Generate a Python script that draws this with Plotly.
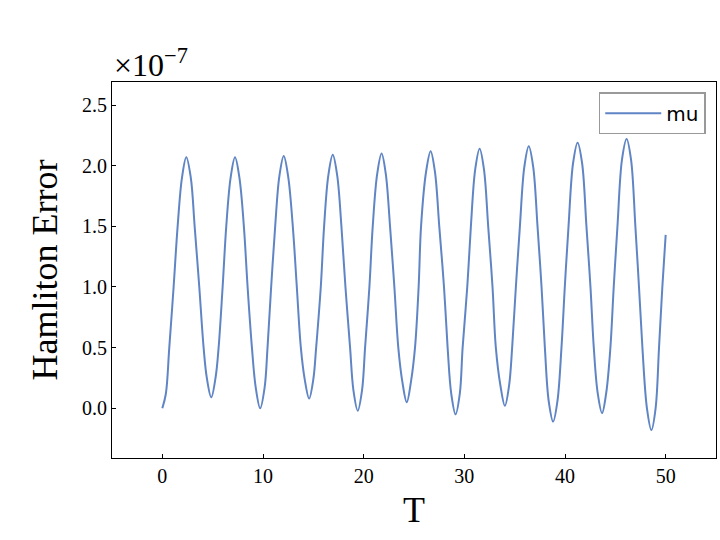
import plotly.graph_objects as go

# Hamilton error (in units of 1e-7)
T = [0.0, 0.35, 0.69, 1.12, 1.52, 1.95, 2.38, 2.83, 3.21, 3.67, 4.10, 4.42, 4.86,
     5.30, 5.59, 5.99, 6.35, 6.78, 7.22, 7.66, 8.10, 8.47, 8.90, 9.28, 9.72,
     10.16, 10.45, 10.81, 11.21, 11.62, 12.06, 12.50, 12.96, 13.36, 13.76, 14.14, 14.58,
     15.00, 15.28, 15.74, 16.07, 16.49, 16.93, 17.37, 17.79, 18.19, 18.65, 18.98, 19.41,
     19.84, 20.14, 20.57, 20.90, 21.34, 21.78, 22.20, 22.62, 23.05, 23.44, 23.84, 24.28,
     24.70, 25.10, 25.46, 25.70, 26.20, 26.65, 27.08, 27.51, 27.98, 28.34, 28.70, 29.13,
     29.55, 29.83, 30.29, 30.65, 31.08, 31.52, 31.95, 32.37, 32.80, 33.13, 33.58, 34.03,
     34.45, 34.75, 35.12, 35.52, 35.96, 36.40, 36.84, 37.27, 37.67, 38.00, 38.38, 38.82,
     39.25, 39.65, 39.98, 40.35, 40.80, 41.25, 41.70, 42.13, 42.53, 42.86, 43.24, 43.68,
     44.10, 44.51, 44.84, 45.21, 45.66, 46.12, 46.56, 46.99, 47.35, 47.69, 48.14, 48.58,
     49.00, 49.34, 49.67, 50.0]
H = [0.0, 0.12, 0.5, 1.0, 1.5, 1.90, 2.07, 1.90, 1.5, 1.0, 0.5, 0.25, 0.09,
     0.26, 0.5, 1.0, 1.5, 1.90, 2.07, 1.90, 1.5, 1.0, 0.5, 0.17, 0.0,
     0.17, 0.5, 1.0, 1.5, 1.91, 2.08, 1.91, 1.5, 1.0, 0.5, 0.24, 0.08,
     0.24, 0.5, 1.0, 1.5, 1.92, 2.09, 1.92, 1.5, 1.0, 0.5, 0.15, -0.02,
     0.15, 0.5, 1.0, 1.5, 1.93, 2.10, 1.93, 1.5, 1.0, 0.5, 0.22, 0.05,
     0.22, 0.5, 1.0, 1.5, 1.95, 2.12, 1.95, 1.5, 1.0, 0.5, 0.12, -0.05,
     0.12, 0.5, 1.0, 1.5, 1.97, 2.14, 1.97, 1.5, 1.0, 0.5, 0.19, 0.02,
     0.19, 0.5, 1.0, 1.5, 1.99, 2.16, 1.99, 1.5, 1.0, 0.5, 0.06, -0.11,
     0.06, 0.5, 1.0, 1.5, 2.02, 2.19, 2.02, 1.5, 1.0, 0.5, 0.13, -0.04,
     0.13, 0.5, 1.0, 1.5, 2.05, 2.22, 2.05, 1.5, 1.0, 0.5, 0.00, -0.18,
     0.00, 0.5, 1.0, 1.43]

x_ticks = [0, 10, 20, 30, 40, 50]
y_ticks = [0.0, 0.5, 1.0, 1.5, 2.0, 2.5]

SERIF = "Liberation Serif, Times New Roman, serif"

fig = go.Figure()
fig.add_trace(go.Scatter(
    x=T, y=H, mode="lines", name="mu",
    line=dict(color="rgb(96,133,196)", width=2, shape="spline", smoothing=1.0),
))

axis_common = dict(
    showgrid=False, zeroline=False, showline=True, linecolor="black",
    linewidth=1, mirror=True, ticks="inside", ticklen=4, tickwidth=1,
    tickcolor="black", tickfont=dict(family=SERIF, size=20, color="black"),
    automargin=False,
)

fig.update_layout(
    width=720, height=540,
    margin=dict(l=112, r=4, t=82, b=82, autoexpand=False),
    paper_bgcolor="white", plot_bgcolor="white",
    xaxis=dict(range=[-5, 55], tickvals=x_ticks, ticktext=[str(v) for v in x_ticks],
               title=dict(text="T", font=dict(family=SERIF, size=36, color="black"), standoff=10),
               **axis_common),
    yaxis=dict(range=[-0.41, 2.69], tickvals=y_ticks, ticktext=[f"{v:.1f}" for v in y_ticks],
               title=dict(text="Hamliton Error", font=dict(family=SERIF, size=36, color="black"), standoff=13),
               **axis_common),
    showlegend=True,
    legend=dict(x=0.983, y=0.973, xanchor="right", yanchor="top",
                bgcolor="white", bordercolor="#999999", borderwidth=1.5,
                itemwidth=56,
                font=dict(family="DejaVu Sans, sans-serif", size=20, color="black")),
    annotations=[dict(
        text="×10<sup>−7</sup>", xref="paper", yref="paper", x=0.0, y=1.0,
        xanchor="left", yanchor="bottom", showarrow=False, yshift=-3,
        font=dict(family=SERIF, size=32, color="black"),
    )],
)

fig.write_html(
    "out.html",
    config={"displayModeBar": False},
    post_script="document.body.style.margin='0';document.body.style.overflow='hidden';",
)
